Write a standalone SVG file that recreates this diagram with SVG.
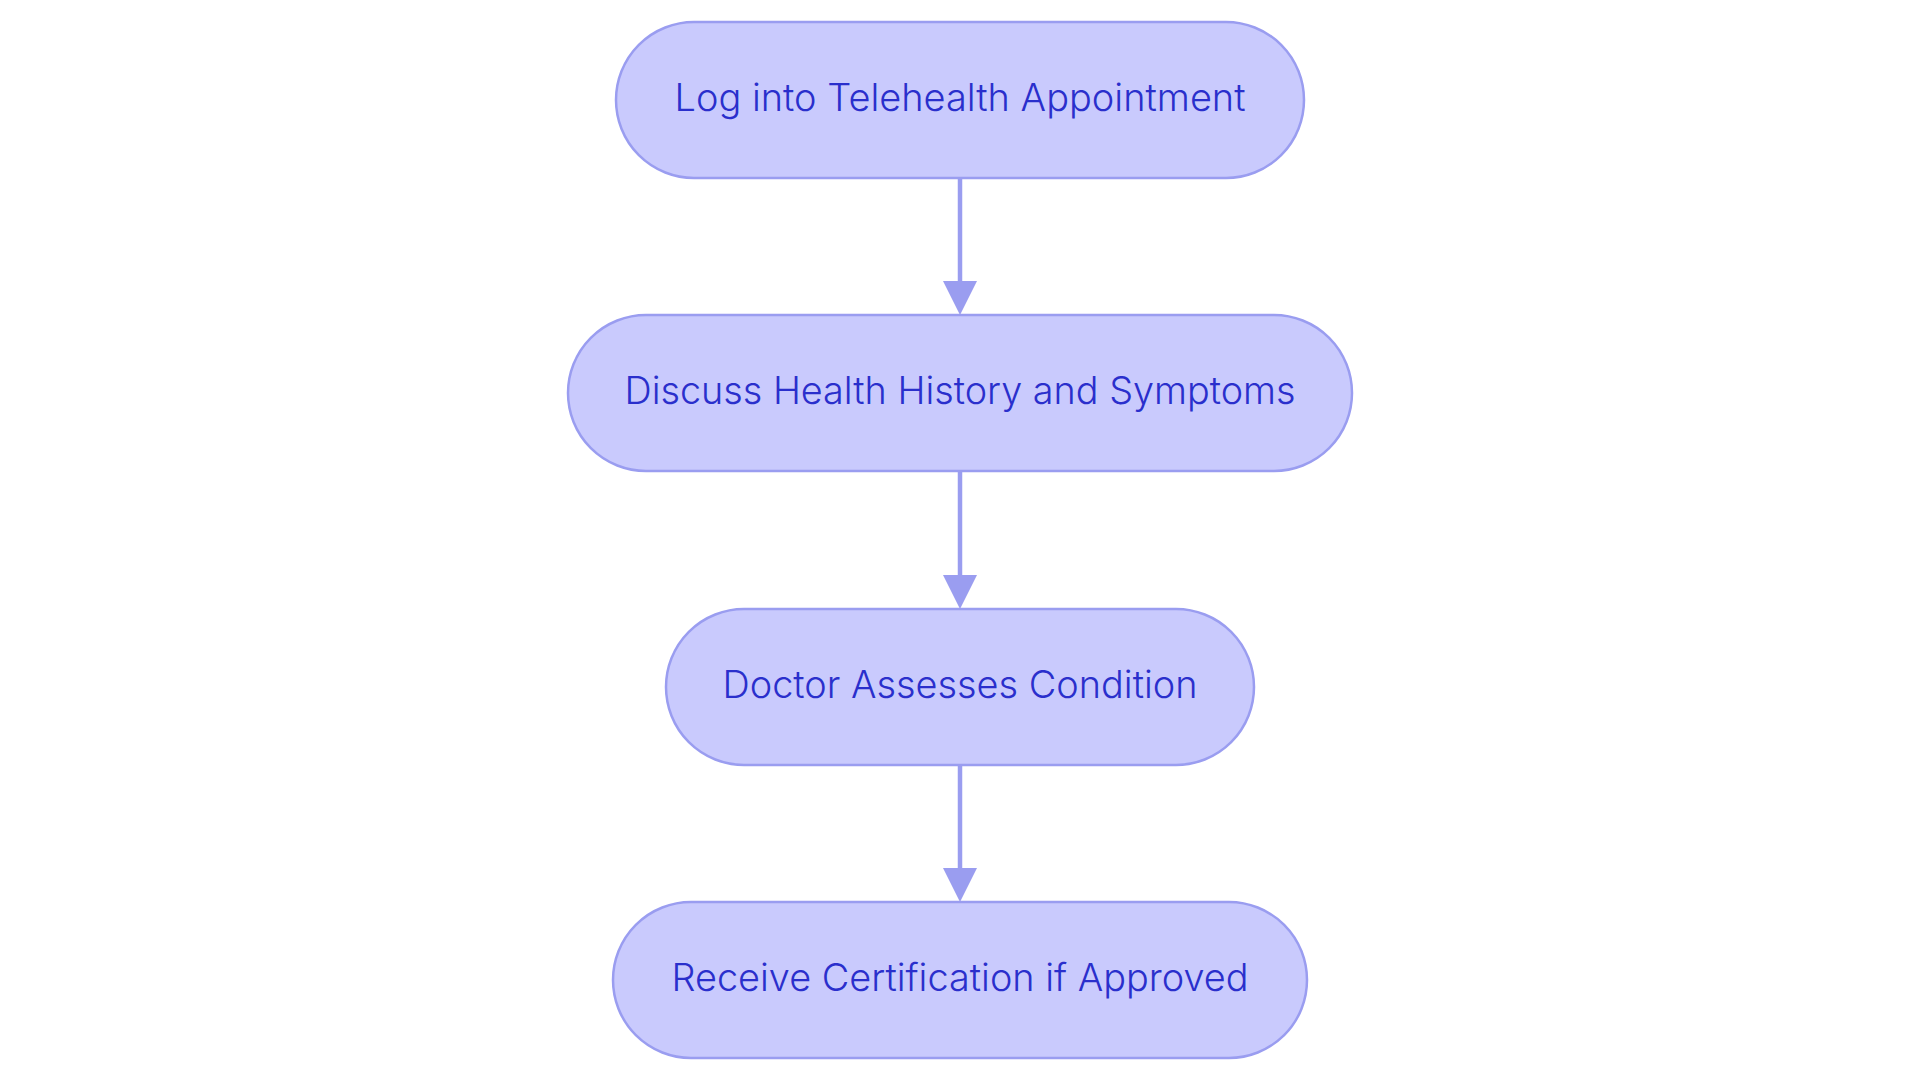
<svg xmlns="http://www.w3.org/2000/svg" width="1920" height="1083" viewBox="0 0 1920 1083">
  <defs>
    <style>
      .node rect { fill: #C9CAFD; stroke: #9A9DF0; stroke-width: 2.5; }
      .node text { font-family: Inter, "Noto Sans", "Liberation Sans", sans-serif; font-size: 38px; font-weight: 350; fill: #2A2FCC; text-anchor: middle; }
      .edge { stroke: #9A9DF0; stroke-width: 4.5; fill: none; }
      .head { fill: #9A9DF0; }
    </style>
  </defs>
  <rect width="1920" height="1083" fill="#FFFFFF"/>
  <g id="connectors">
    <line class="edge" x1="960" y1="178" x2="960" y2="284"/>
    <polygon class="head" points="943,281 977,281 960,315"/>
    <line class="edge" x1="960" y1="471" x2="960" y2="578"/>
    <polygon class="head" points="943,575 977,575 960,609"/>
    <line class="edge" x1="960" y1="765" x2="960" y2="871"/>
    <polygon class="head" points="943,868 977,868 960,902"/>
  </g>
  <g id="node1" class="node">
    <rect x="616" y="22" width="688" height="156" rx="78" ry="78"/>
    <text x="960" y="111" textLength="571" lengthAdjust="spacingAndGlyphs">Log into Telehealth Appointment</text>
  </g>
  <g id="node2" class="node">
    <rect x="568" y="315" width="784" height="156" rx="78" ry="78"/>
    <text x="960" y="404" textLength="671" lengthAdjust="spacingAndGlyphs">Discuss Health History and Symptoms</text>
  </g>
  <g id="node3" class="node">
    <rect x="666" y="609" width="588" height="156" rx="78" ry="78"/>
    <text x="960" y="698" textLength="475" lengthAdjust="spacingAndGlyphs">Doctor Assesses Condition</text>
  </g>
  <g id="node4" class="node">
    <rect x="613" y="902" width="694" height="156" rx="78" ry="78"/>
    <text x="960" y="991" textLength="577" lengthAdjust="spacingAndGlyphs">Receive Certification if Approved</text>
  </g>
</svg>
